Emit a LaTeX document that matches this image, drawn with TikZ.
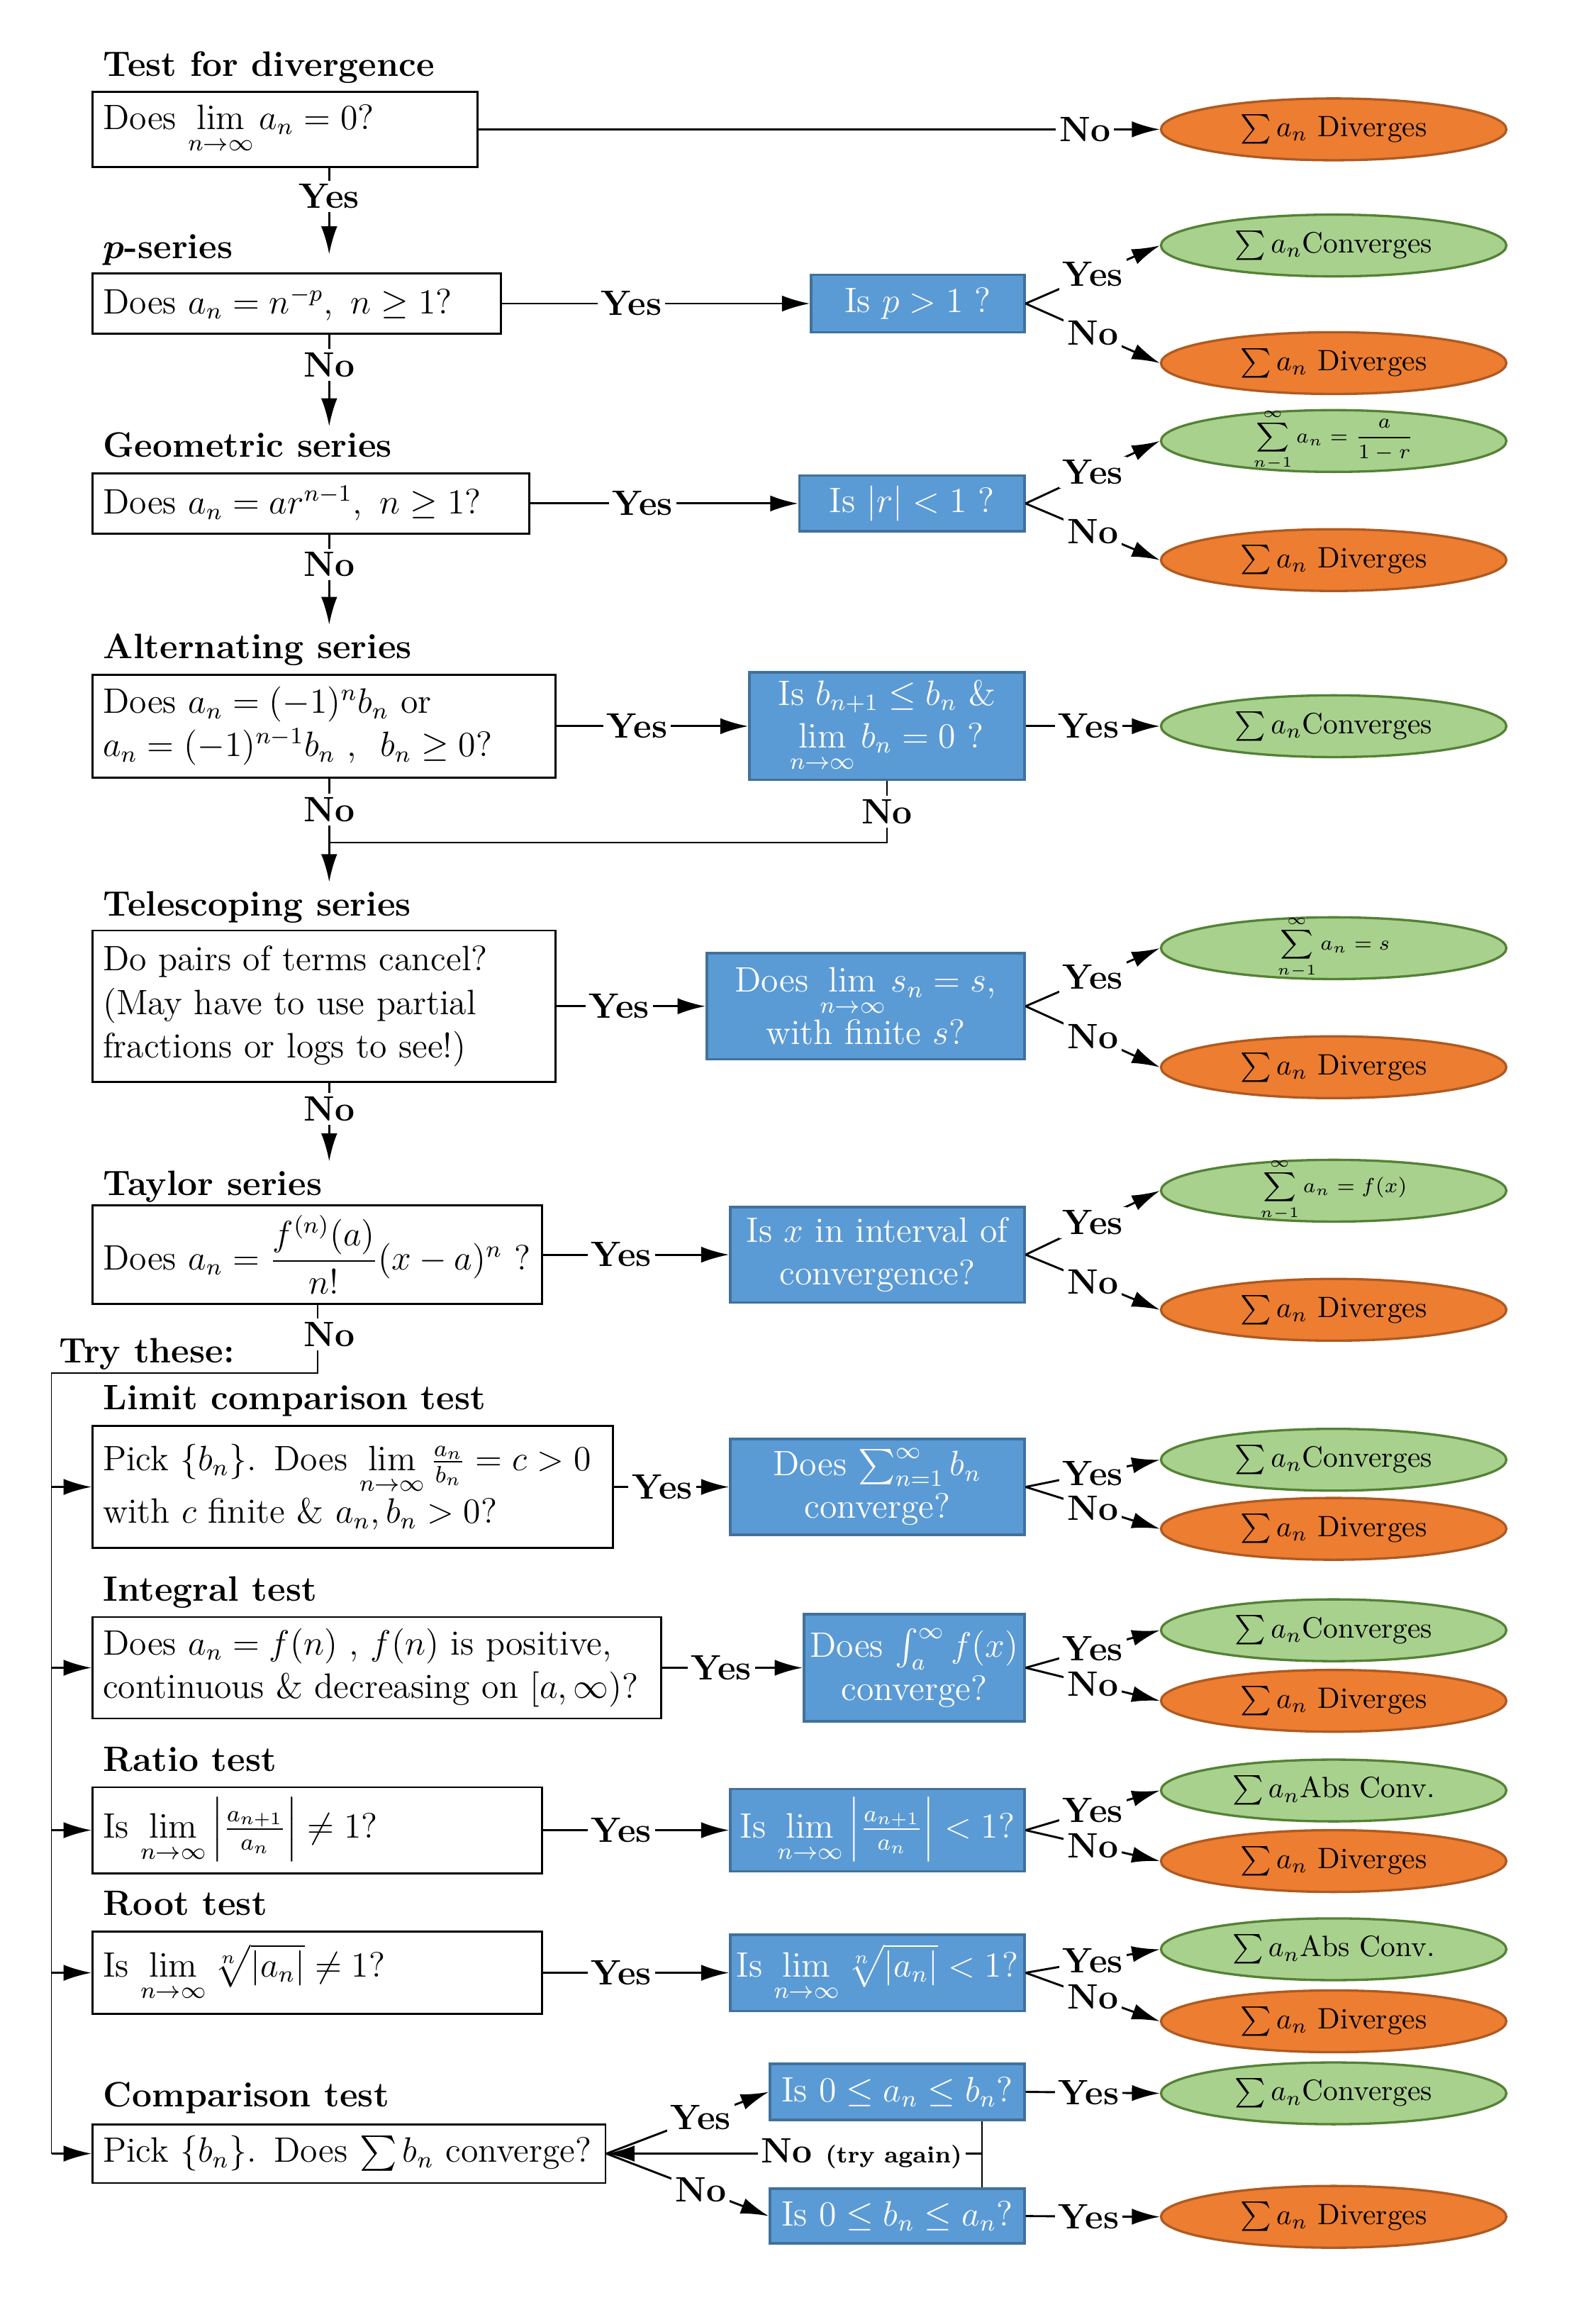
\documentclass[tikz,border=0pt]{standalone}
\usepackage{amsmath,amssymb}
\usetikzlibrary{arrows.meta,shapes.geometric}
\definecolor{fblue}{HTML}{5B9BD5}
\definecolor{dblue}{HTML}{41719C}
\definecolor{fgreen}{HTML}{A9D18E}
\definecolor{dgreen}{HTML}{548235}
\definecolor{forange}{HTML}{ED7D31}
\definecolor{dorange}{HTML}{AE5A21}
\tikzset{
  wbox/.style={rectangle, draw=black, line width=0.7pt, fill=white, align=left, inner sep=3.5pt, font=\fontsize{12}{14.75}\selectfont},
  bbox/.style={rectangle, draw=dblue, line width=0.9pt, fill=fblue, text=white, align=center, inner sep=2pt, font=\fontsize{12}{14.5}\selectfont},
  gell/.style={ellipse, draw=dgreen, fill=fgreen, line width=0.8pt, minimum width=117.5pt, minimum height=21pt, inner sep=0pt, font=\fontsize{10}{12}\selectfont},
  oell/.style={ellipse, draw=dorange, fill=forange, line width=0.8pt, minimum width=117.5pt, minimum height=21pt, inner sep=0pt, font=\fontsize{10}{12}\selectfont},
  hdr/.style={anchor=base west, inner sep=0pt, font=\bfseries\boldmath\fontsize{12}{14}\selectfont},
  lbl/.style={fill=white, inner sep=1.2pt, font=\bfseries\fontsize{12}{14}\selectfont},
  arr/.style={line width=0.7pt, -{Latex[length=9.5pt,width=5.5pt]}},
  thinline/.style={line width=0.45pt},
}
\newcommand{\sumf}[1]{\raisebox{-1.5pt}[0pt][0pt]{\fontsize{7}{8}\selectfont$\vcenter{\hbox{$\displaystyle\sum_{n-1}^{\infty} a_n = #1$}}$}}
\begin{document}
\begin{tikzpicture}[x=0.5pt,y=-0.5pt]
\fill[white] (0,0) rectangle (1086,1568);
\useasboundingbox (0,0) rectangle (1086,1568);

% Row 1: divergence
\node[hdr] at (70,52) {Test for divergence};
\node[wbox, text width=124pt, minimum height=25.5pt] (d1) at (194,88) {Does $\lim\limits_{n\to\infty} a_n = 0$?};
\node[oell] (d1o) at (907.5,88) {$\sum a_n$ Diverges};
\draw[arr] (d1.east) -- node[lbl,pos=0.89]{No} (d1o.west);
\coordinate (e1) at (224,173);
\draw[arr] (d1.south -| e1) -- node[lbl,pos=0.33]{Yes} (e1);

% Row 2: p-series
\node[hdr] at (70,176) {$p$-series};
\node[wbox, text width=132pt, minimum height=20.5pt] (p1) at (202,206.5) {Does $a_n = n^{-p},\ n \ge 1$?};
\node[bbox, minimum width=72.5pt, minimum height=19.5pt] (p2) at (624.5,206.5) {Is $p>1$ ?};
\node[gell] (p3) at (907.5,167) {$\sum a_n$Converges};
\node[oell] (p4) at (907.5,247) {$\sum a_n$ Diverges};
\draw[arr] (p1.east) -- node[lbl,pos=0.42]{Yes} (p2.west);
\draw[arr] (p2.east) -- node[lbl]{Yes} (p3.west);
\draw[arr] (p2.east) -- node[lbl]{No} (p4.west);
\coordinate (e2) at (224,290);
\draw[arr] (p1.south -| e2) -- node[lbl,pos=0.33]{No} (e2);

% Row 3: geometric
\node[hdr] at (70,311) {Geometric series};
\node[wbox, text width=141.5pt, minimum height=20.5pt] (g1) at (211.5,342.5) {Does $a_n = ar^{n-1},\ n \ge 1$?};
\node[bbox, minimum width=76.5pt, minimum height=19pt] (g2) at (620.5,342.5) {Is $|r|<1$ ?};
\node[gell] (g3) at (907.5,300) {\sumf{\frac{a}{1-r}}};
\node[oell] (g4) at (907.5,381) {$\sum a_n$ Diverges};
\draw[arr] (g1.east) -- node[lbl,pos=0.42]{Yes} (g2.west);
\draw[arr] (g2.east) -- node[lbl]{Yes} (g3.west);
\draw[arr] (g2.east) -- node[lbl]{No} (g4.west);
\coordinate (e3) at (224,425);
\draw[arr] (g1.south -| e3) -- node[lbl,pos=0.33]{No} (e3);

% Row 4: alternating
\node[hdr] at (70,448) {Alternating series};
\node[wbox, text width=150.5pt, minimum height=35pt] (a1) at (220.5,494) {Does $a_n = (-1)^n b_n$ or\\ $a_n = (-1)^{n-1} b_n$ ,\ \ $b_n \ge 0$?};
\node[bbox, minimum width=93.5pt, minimum height=36.5pt] (a2) at (603.5,494) {Is $b_{n+1} \le b_n$ \&\\ $\lim\limits_{n\to\infty} b_n = 0$ ?};
\node[gell] (a3) at (907.5,494) {$\sum a_n$Converges};
\draw[arr] (a1.east) -- node[lbl,pos=0.42]{Yes} (a2.west);
\draw[arr] (a2.east) -- node[lbl,pos=0.47]{Yes} (a3.west);
\coordinate (e4) at (224,600);
\coordinate (j4) at (224,573);
\draw[arr] (a1.south -| e4) -- node[lbl,pos=0.3]{No} (e4);
\draw[thinline] (a2.south) |- node[lbl,pos=0.25]{No} (j4);

% Row 5: telescoping
\node[hdr] at (70,623) {Telescoping series};
\node[wbox, text width=150.5pt, minimum height=51.5pt] (t1) at (220.5,684.5) {Do pairs of terms cancel?\\(May have to use partial\\fractions or logs to see!)};
\node[bbox, minimum width=108pt, minimum height=36pt] (t2) at (589,684.5) {Does $\lim\limits_{n\to\infty} s_n = s$,\\ with finite $s$?};
\node[gell] (t3) at (907.5,645) {\sumf{s}};
\node[oell] (t4) at (907.5,726) {$\sum a_n$ Diverges};
\draw[arr] (t1.east) -- node[lbl,pos=0.42]{Yes} (t2.west);
\draw[arr] (t2.east) -- node[lbl]{Yes} (t3.west);
\draw[arr] (t2.east) -- node[lbl]{No} (t4.west);
\coordinate (e5) at (224,790);
\draw[arr] (t1.south -| e5) -- node[lbl,pos=0.33]{No} (e5);

% Row 6: Taylor
\node[hdr] at (70,813) {Taylor series};
\node[wbox, text width=146pt, minimum height=29.5pt] (y1) at (216,853.5) {Does $a_n = \dfrac{f^{(n)}(a)}{n!}(x-a)^n$ ?};
\node[bbox, minimum width=100pt, minimum height=32.5pt] (y2) at (597,853.5) {Is $x$ in interval of\\ convergence?};
\node[gell] (y3) at (907.5,810) {\sumf{f(x)}};
\node[oell] (y4) at (907.5,891) {$\sum a_n$ Diverges};
\draw[arr] (y1.east) -- node[lbl,pos=0.42]{Yes} (y2.west);
\draw[arr] (y2.east) -- node[lbl]{Yes} (y3.west);
\draw[arr] (y2.east) -- node[lbl]{No} (y4.west);

% Try these
\node[hdr] at (40,927) {Try these:};

% Row 7: limit comparison
\node[hdr] at (70,959) {Limit comparison test};
\node[wbox, text width=170pt, minimum height=41.5pt] (l1) at (240,1011.5) {Pick $\{b_n\}$. Does $\lim\limits_{n\to\infty}\frac{a_n}{b_n} = c > 0$\\ with $c$ finite \& $a_n, b_n > 0$?};
\node[bbox, minimum width=100pt, minimum height=32.5pt] (l2) at (597,1011.5) {Does $\sum_{n=1}^{\infty} b_n$\\ converge?};
\node[gell] (l3) at (907.5,993) {$\sum a_n$Converges};
\node[oell] (l4) at (907.5,1040) {$\sum a_n$ Diverges};
\draw[arr] (l1.east) -- node[lbl,pos=0.42]{Yes} (l2.west);
\draw[arr] (l2.east) -- node[lbl]{Yes} (l3.west);
\draw[arr] (l2.east) -- node[lbl]{No} (l4.west);

% Row 8: integral
\node[hdr] at (70,1089) {Integral test};
\node[wbox, text width=186.5pt, minimum height=34.5pt] (i1) at (256.5,1134.5) {Does $a_n = f(n)$ , $f(n)$ is positive,\\ continuous \& decreasing on $[a,\infty)$?};
\node[bbox, minimum width=75pt, minimum height=36.5pt] (i2) at (622,1134.5) {Does $\int_a^\infty f(x)$\\ converge?};
\node[gell] (i3) at (907.5,1109) {$\sum a_n$Converges};
\node[oell] (i4) at (907.5,1157) {$\sum a_n$ Diverges};
\draw[arr] (i1.east) -- node[lbl,pos=0.42]{Yes} (i2.west);
\draw[arr] (i2.east) -- node[lbl]{Yes} (i3.west);
\draw[arr] (i2.east) -- node[lbl]{No} (i4.west);

% Row 9: ratio
\node[hdr] at (70,1205) {Ratio test};
\node[wbox, text width=146pt, minimum height=29pt] (r1) at (216,1245) {Is $\lim\limits_{n\to\infty}\left|\frac{a_{n+1}}{a_n}\right| \neq 1$?};
\node[bbox, minimum width=100pt, minimum height=28pt] (r2) at (597,1245) {Is $\lim\limits_{n\to\infty}\left|\frac{a_{n+1}}{a_n}\right| < 1$?};
\node[gell] (r3) at (907.5,1218) {$\sum a_n$Abs Conv.};
\node[oell] (r4) at (907.5,1266) {$\sum a_n$ Diverges};
\draw[arr] (r1.east) -- node[lbl,pos=0.42]{Yes} (r2.west);
\draw[arr] (r2.east) -- node[lbl]{Yes} (r3.west);
\draw[arr] (r2.east) -- node[lbl]{No} (r4.west);

% Row 10: root
\node[hdr] at (70,1303) {Root test};
\node[wbox, text width=146pt, minimum height=28pt] (s1) at (216,1342) {Is $\lim\limits_{n\to\infty}\sqrt[n]{|a_n|} \neq 1$?};
\node[bbox, minimum width=100pt, minimum height=26pt] (s2) at (597,1342) {Is $\lim\limits_{n\to\infty}\sqrt[n]{|a_n|} < 1$?};
\node[gell] (s3) at (907.5,1326) {$\sum a_n$Abs Conv.};
\node[oell] (s4) at (907.5,1375) {$\sum a_n$ Diverges};
\draw[arr] (s1.east) -- node[lbl,pos=0.42]{Yes} (s2.west);
\draw[arr] (s2.east) -- node[lbl]{Yes} (s3.west);
\draw[arr] (s2.east) -- node[lbl]{No} (s4.west);

% Row 11: comparison
\node[hdr] at (70,1433) {Comparison test};
\node[wbox, text width=167.5pt, minimum height=20pt] (c1) at (237.5,1465) {Pick $\{b_n\}$. Does $\sum b_n$ converge?};
\node[bbox, minimum width=86.5pt, minimum height=19pt] (c2) at (610.5,1423) {Is $0 \le a_n \le b_n$?};
\node[bbox, minimum width=86.5pt, minimum height=18.5pt] (c3) at (610.5,1507.5) {Is $0 \le b_n \le a_n$?};
\node[gell] (c4) at (907.5,1424) {$\sum a_n$Converges};
\node[oell] (c5) at (907.5,1508) {$\sum a_n$ Diverges};
\draw[arr] (c1.east) -- node[lbl,pos=0.58]{Yes} (c2.west);
\draw[arr] (c1.east) -- node[lbl,pos=0.58]{No} (c3.west);
\coordinate (cj) at (668,1465);
\draw[thinline] (c2.south -| cj) -- (c3.north -| cj);
\draw[arr] (cj) -- node[lbl,pos=0.32]{No {\fontsize{8}{9}\selectfont (try again)}} (c1.east);
\draw[arr] (c2.east) -- node[lbl,pos=0.47]{Yes} (c4.west);
\draw[arr] (c3.east) -- node[lbl,pos=0.47]{Yes} (c5.west);

% Taylor "No" and spine
\coordinate (tt) at (216,934);
\coordinate (sp) at (35,934);
\draw[thinline] (y1.south) -- node[lbl,pos=0.43,xshift=4pt]{No} (tt) -- (sp) -- (sp |- c1.west);
\draw[arr] (sp |- l1.west) -- (l1.west);
\draw[arr] (sp |- i1.west) -- (i1.west);
\draw[arr] (sp |- r1.west) -- (r1.west);
\draw[arr] (sp |- s1.west) -- (s1.west);
\draw[arr] (sp |- c1.west) -- (c1.west);
\end{tikzpicture}
\end{document}
